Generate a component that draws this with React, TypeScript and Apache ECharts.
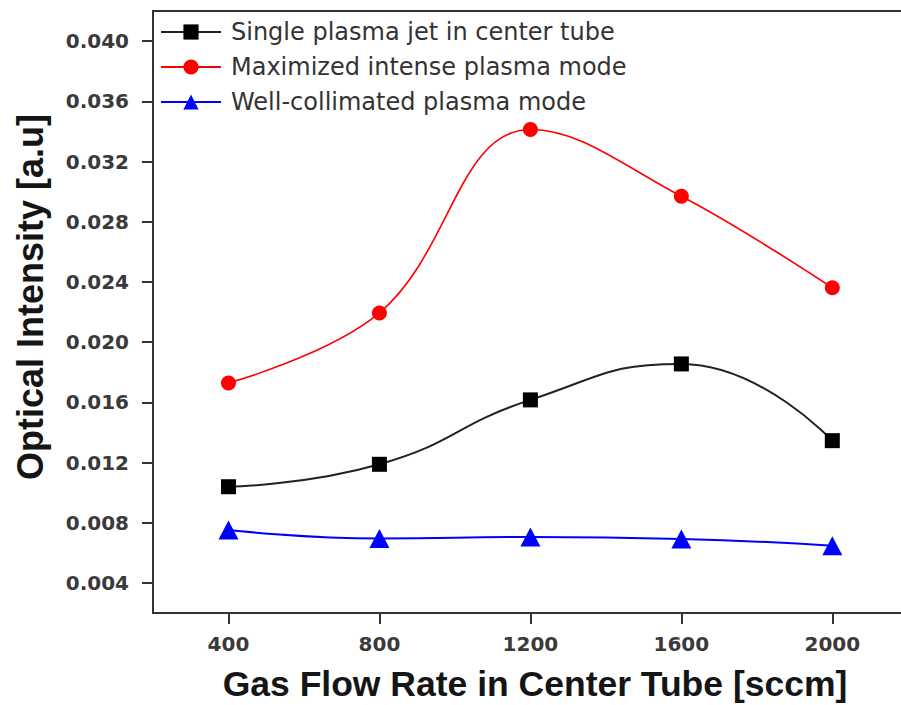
import React, { useEffect, useRef } from "react";
import * as echarts from "echarts";

// Gas flow rate in the center tube (sccm)
const flowRates = [400, 800, 1200, 1600, 2000];

// Optical intensity (a.u) for each operating mode
const singleJet = [0.01039, 0.01188, 0.01616, 0.01855, 0.01345];
const maxIntense = [0.01729, 0.02194, 0.03413, 0.02969, 0.02361];
const wellCollimated = [0.00752, 0.00695, 0.00705, 0.00692, 0.00647];

const seriesNames = [
  "Single plasma jet in center tube",
  "Maximized intense plasma mode",
  "Well-collimated plasma mode",
];

const xTicks = [400, 800, 1200, 1600, 2000];
const yTicks = [0.004, 0.008, 0.012, 0.016, 0.02, 0.024, 0.028, 0.032, 0.036, 0.04];

const toPairs = (ys: number[]) => flowRates.map((x, i) => [x, ys[i]]);

export default function App() {
  const ref = useRef<HTMLDivElement>(null);

  useEffect(() => {
    if (!ref.current) return;
    const chart = echarts.init(ref.current, null, { renderer: "svg" });

    const tickFont = {
      fontFamily: "DejaVu Sans",
      fontWeight: "bold" as const,
      fontSize: 20,
      color: "#3a3a3a",
    };
    const frameLine = { show: true, lineStyle: { color: "#333333", width: 2 } };

    const gridLeft = 153;
    const gridTop = 11;

    chart.setOption({
      animation: false,
      backgroundColor: "#ffffff",
      // the frame continues past the right edge, so the visible x range stops short of 2200
      grid: {
        left: gridLeft,
        top: gridTop,
        right: 0,
        height: 602,
        show: false,
      },
      legend: {
        left: 155,
        top: 15,
        orient: "vertical",
        itemWidth: 60,
        itemHeight: 19,
        itemGap: 11,
        data: seriesNames,
        textStyle: {
          fontFamily: "DejaVu Sans",
          fontSize: 24,
          color: "#333333",
          padding: [0, 0, 0, 5],
        },
      },
      xAxis: {
        type: "value",
        min: 200,
        max: 2182,
        splitLine: { show: false },
        axisLine: frameLine,
        axisTick: {
          show: true,
          length: 11,
          customValues: xTicks,
          lineStyle: { color: "#333333", width: 2 },
        },
        axisLabel: {
          ...tickFont,
          margin: 21,
          customValues: xTicks,
          formatter: (v: number) => String(v),
        },
      },
      yAxis: {
        type: "value",
        min: 0.002,
        max: 0.042,
        splitLine: { show: false },
        axisLine: frameLine,
        axisTick: {
          show: true,
          length: 11,
          customValues: yTicks,
          lineStyle: { color: "#333333", width: 2 },
        },
        axisLabel: {
          ...tickFont,
          margin: 24,
          customValues: yTicks,
          formatter: (v: number) => v.toFixed(3),
        },
      },
      series: [
        {
          name: seriesNames[0],
          type: "line",
          smooth: 0.5,
          data: toPairs(singleJet),
          symbol: "rect",
          symbolSize: 15,
          itemStyle: { color: "#000000" },
          lineStyle: { color: "#222222", width: 2 },
          z: 3,
        },
        {
          name: seriesNames[1],
          type: "line",
          smooth: 0.4,
          data: toPairs(maxIntense),
          symbol: "circle",
          symbolSize: 15,
          itemStyle: { color: "#ff0000" },
          lineStyle: { color: "#ff0000", width: 1.6 },
          z: 3,
        },
        {
          name: seriesNames[2],
          type: "line",
          smooth: true,
          data: toPairs(wellCollimated),
          symbol: "triangle",
          symbolSize: [20, 19],
          itemStyle: { color: "#0000ff" },
          lineStyle: { color: "#0000ff", width: 2 },
          z: 3,
        },
      ],
      graphic: [
        {
          // top edge of the frame
          type: "line",
          shape: { x1: gridLeft - 1, y1: gridTop, x2: 901, y2: gridTop },
          style: { stroke: "#333333", lineWidth: 2 },
        },
        {
          type: "text",
          x: 30,
          y: 297,
          rotation: Math.PI / 2,
          style: {
            text: "Optical Intensity [a.u]",
            fontFamily: "Liberation Sans",
            fontWeight: "bold",
            fontSize: 36,
            fill: "#151515",
            textAlign: "center",
            textVerticalAlign: "middle",
          },
        },
        {
          type: "text",
          x: 535,
          y: 684,
          style: {
            text: "Gas Flow Rate in Center Tube [sccm]",
            fontFamily: "Liberation Sans",
            fontWeight: "bold",
            fontSize: 35.5,
            fill: "#151515",
            textAlign: "center",
            textVerticalAlign: "middle",
          },
        },
      ],
    });

    return () => chart.dispose();
  }, []);

  return (
    <div
      ref={ref}
      style={{ position: "fixed", left: 0, top: 0, width: 901, height: 705 }}
    />
  );
}
